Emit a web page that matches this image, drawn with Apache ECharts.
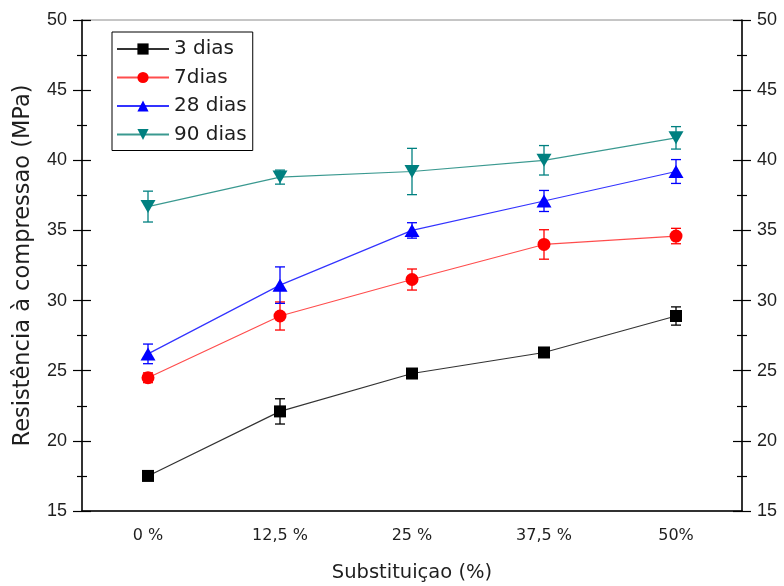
<!DOCTYPE html>
<html><head><meta charset="utf-8">
<script src="https://cdn.jsdelivr.net/npm/echarts@6/dist/echarts.min.js"></script>
<style>html,body{margin:0;padding:0;background:#fff}#c{width:784px;height:586px}</style>
</head><body><div id="c"></div>
<script>
const categories = ['0 %', '12,5 %', '25 %', '37,5 %', '50%'];
const seriesNames = ['3 dias', '7dias', '28 dias', '90 dias'];
const dias3 = [17.5, 22.1, 24.8, 26.3, 28.9];
const err3 = [0.0, 0.9, 0.2, 0.2, 0.65];
const dias7 = [24.5, 28.9, 31.5, 34.0, 34.6];
const err7 = [0.35, 1.0, 0.75, 1.05, 0.55];
const dias28 = [26.2, 31.1, 35.0, 37.1, 39.2];
const err28 = [0.7, 1.3, 0.55, 0.75, 0.85];
const dias90 = [36.7, 38.8, 39.2, 40.0, 41.6];
const err90 = [1.1, 0.5, 1.65, 1.05, 0.8];
const yMin = 15, yMax = 50, yStep = 5;

const FONT = 'Liberation Sans';
const WFONT = 'DejaVu Sans';
const TXT = '#1e1e1e';

function errData(vals, errs) {
  return vals.map((v, i) => [i, v - errs[i], v + errs[i]]);
}
function errItem(params, api) {
  const x = api.value(0), lo = api.value(1), hi = api.value(2);
  const p1 = api.coord([x, hi]), p2 = api.coord([x, lo]);
  const w = 5;
  const style = { stroke: api.visual('color'), lineWidth: 1.3 };
  return { type: 'group', children: [
    { type: 'line', shape: { x1: p1[0], y1: p1[1], x2: p2[0], y2: p2[1] }, style },
    { type: 'line', shape: { x1: p1[0] - w, y1: p1[1], x2: p1[0] + w, y2: p1[1] }, style },
    { type: 'line', shape: { x1: p2[0] - w, y1: p2[1], x2: p2[0] + w, y2: p2[1] }, style }
  ]};
}

const markerColors = ['#000000', '#ff0000', '#0000ff', '#008080'];
const lineColors = ['#333333', '#ff4d4d', '#3333ff', '#3a9990'];
const symbols = ['rect', 'circle', 'triangle', 'path://M0,0 L10,0 L5,9 Z'];
const symSizes = [12, 13, [15, 13], [15, 13]];
const vals = [dias3, dias7, dias28, dias90];
const errs = [err3, err7, err28, err90];

const series = [];
for (let k = 0; k < 4; k++) {
  series.push({
    name: seriesNames[k] + ' err', type: 'custom', xAxisIndex: 0, yAxisIndex: 0,
    renderItem: errItem, data: errData(vals[k], errs[k]),
    itemStyle: { color: markerColors[k] }, z: 2, silent: true
  });
}
for (let k = 0; k < 4; k++) {
  series.push({
    name: seriesNames[k], type: 'line', xAxisIndex: 0, yAxisIndex: 0,
    data: vals[k], symbol: symbols[k], symbolSize: symSizes[k],
    itemStyle: { color: markerColors[k] },
    lineStyle: { color: lineColors[k], width: 1.2 },
    z: 3, animation: false
  });
}

const gridBox = { left: 82, right: 42, top: 20, bottom: 75, outerBoundsMode: 'none', containLabel: false };
const yBase = { type: 'value', min: yMin, max: yMax, interval: yStep, splitLine: { show: false } };

const option = {
  animation: false,
  backgroundColor: '#fff',
  grid: [
    Object.assign({ show: true, borderColor: '#8c8c8c', borderWidth: 1 }, gridBox),
    Object.assign({ show: false }, gridBox)
  ],
  legend: {
    data: seriesNames, orient: 'vertical', left: 112, top: 32,
    itemWidth: 52, itemHeight: 14, itemGap: 8.5,
    padding: [7, 6, 6, 4],
    borderColor: '#000', borderWidth: 1, borderRadius: 0,
    textStyle: { fontFamily: WFONT, fontSize: 20, color: TXT }
  },
  xAxis: [
    {
      type: 'category', gridIndex: 0, data: categories, position: 'bottom', boundaryGap: true,
      axisLine: { lineStyle: { color: '#000', width: 1.5 } },
      axisTick: { alignWithLabel: true, length: 9, lineStyle: { color: '#000', width: 1.2 } },
      axisLabel: { fontFamily: WFONT, fontSize: 16, color: TXT, margin: 17 },
      name: 'Substituiçao (%)', nameLocation: 'middle', nameGap: 52,
      nameTextStyle: { fontFamily: WFONT, fontSize: 19.5, color: TXT }
    },
    {
      type: 'category', gridIndex: 1, data: categories, position: 'bottom', boundaryGap: true,
      axisLine: { show: false },
      axisTick: { alignWithLabel: false, length: 5, lineStyle: { color: '#000', width: 1.2 } },
      axisLabel: { show: false }
    }
  ],
  yAxis: [
    Object.assign({}, yBase, {
      gridIndex: 0, position: 'left',
      axisLine: { show: true, lineStyle: { color: '#000', width: 1.5 } },
      axisTick: { show: true, length: 9, lineStyle: { color: '#000', width: 1.2 } },
      minorTick: { show: true, splitNumber: 2, length: 5, lineStyle: { color: '#000', width: 1.2 } },
      axisLabel: { fontFamily: FONT, fontSize: 18, color: TXT, margin: 15 },
      name: 'Resistência à compressao (MPa)', nameLocation: 'middle', nameGap: 47,
      nameTextStyle: { fontFamily: WFONT, fontSize: 22.5, color: TXT }
    }),
    Object.assign({}, yBase, {
      gridIndex: 0, position: 'right',
      axisLine: { show: true, lineStyle: { color: '#000', width: 1.5 } },
      axisTick: { show: true, length: 9, lineStyle: { color: '#000', width: 1.2 } },
      minorTick: { show: true, splitNumber: 2, length: 5, lineStyle: { color: '#000', width: 1.2 } },
      axisLabel: { fontFamily: FONT, fontSize: 18, color: TXT, margin: 15 }
    }),
    Object.assign({}, yBase, {
      gridIndex: 1, position: 'left',
      axisLine: { show: false },
      axisTick: { show: true, inside: true, length: 9, lineStyle: { color: '#000', width: 1.2 } },
      minorTick: { show: true, splitNumber: 2, length: 5, lineStyle: { color: '#000', width: 1.2 } },
      axisLabel: { show: false }
    }),
    Object.assign({}, yBase, {
      gridIndex: 1, position: 'right',
      axisLine: { show: false },
      axisTick: { show: true, inside: true, length: 9, lineStyle: { color: '#000', width: 1.2 } },
      minorTick: { show: true, splitNumber: 2, length: 5, lineStyle: { color: '#000', width: 1.2 } },
      axisLabel: { show: false }
    })
  ],
  series: series
};
const chart = echarts.init(document.getElementById('c'), null, { renderer: 'canvas' });
chart.setOption(option);
</script>
</body></html>
